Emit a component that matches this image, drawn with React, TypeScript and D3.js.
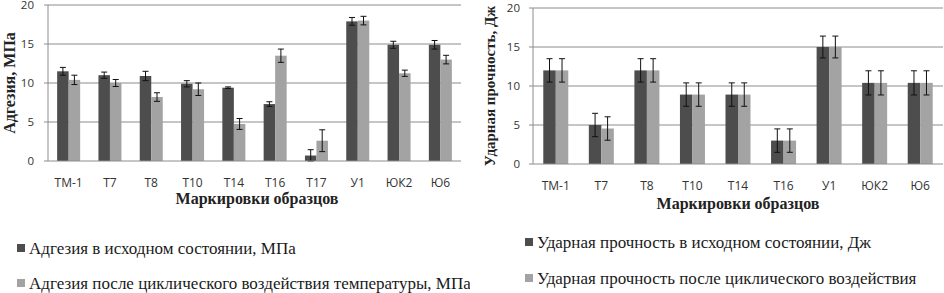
import React from "react";
import * as d3 from "d3";

const catsA = ["ТМ-1", "Т7", "Т8", "Т10", "Т14", "Т16", "Т17", "У1", "ЮК2", "Ю6"];
const adhBefore = [11.5, 11.0, 10.9, 9.9, 9.4, 7.3, 0.7, 17.9, 14.9, 14.9];
const adhBeforeErr = [0.5, 0.4, 0.6, 0.4, 0.1, 0.3, 0.75, 0.5, 0.45, 0.55];
const adhAfter = [10.4, 10.0, 8.2, 9.2, 4.75, 13.5, 2.6, 18.0, 11.25, 13.0];
const adhAfterErr = [0.6, 0.45, 0.55, 0.8, 0.7, 0.85, 1.4, 0.55, 0.4, 0.55];

const catsB = ["ТМ-1", "Т7", "Т8", "Т10", "Т14", "Т16", "У1", "ЮК2", "Ю6"];
const impBefore = [12.0, 5.0, 12.0, 8.9, 8.9, 3.0, 15.0, 10.4, 10.4];
const impBeforeErr = [1.5, 1.5, 1.5, 1.5, 1.5, 1.5, 1.4, 1.55, 1.55];
const impAfter = [12.0, 4.55, 12.0, 8.9, 8.9, 3.0, 15.0, 10.4, 10.4];
const impAfterErr = [1.5, 1.5, 1.5, 1.5, 1.5, 1.5, 1.4, 1.55, 1.55];

const yTicks = [0, 5, 10, 15, 20];

const DARK = "#4d4d4d";
const LIGHT = "#a3a3a3";
const GRID = "#8c8c8c";
const SANS = "'Open Sans', 'Liberation Sans', sans-serif";
const SERIF = "'Liberation Serif', 'Times New Roman', serif";

type PanelProps = {
  cats: string[];
  s1: number[];
  e1: number[];
  s2: number[];
  e2: number[];
  x0: number;
  x1: number;
  y0: number;
  y1: number;
  bw: number;
  yTitle: string;
  yTitleX: number;
  yTitleSize: number;
  tickLabelX: number;
  catLabelY: number;
  xTitleX: number;
  xTitleY: number;
};

function Panel(p: PanelProps) {
  const x = d3.scaleBand<string>().domain(p.cats).range([p.x0, p.x1]).padding(0);
  const y = d3.scaleLinear().domain([0, 20]).range([p.y0, p.y1]);
  const step = x.bandwidth();
  const inner = d3
    .scaleBand<string>()
    .domain(["a", "b"])
    .range([step / 2 - p.bw, step / 2 + p.bw])
    .padding(0);
  const series = [
    { key: "a", vals: p.s1, errs: p.e1, color: DARK },
    { key: "b", vals: p.s2, errs: p.e2, color: LIGHT },
  ];
  return (
    <g>
      {yTicks.map((t) => (
        <g key={"g" + t}>
          {t > 0 && (
            <line x1={p.x0} x2={p.x1} y1={y(t)} y2={y(t)} stroke={GRID} strokeWidth={1} />
          )}
          <line x1={p.x0 - 4} x2={p.x0} y1={y(t)} y2={y(t)} stroke={GRID} strokeWidth={1} />
          <text
            x={p.tickLabelX}
            y={y(t)}
            dy="0.35em"
            textAnchor="end"
            fontFamily={SANS}
            fontSize={11.5}
            fill="#333"
          >
            {t}
          </text>
        </g>
      ))}
      <line x1={p.x0} x2={p.x0} y1={p.y0} y2={p.y1} stroke={GRID} strokeWidth={1} />
      {series.map((s) =>
        p.cats.map((c, i) => {
          const bx = (x(c) as number) + (inner(s.key) as number);
          const w = inner.bandwidth();
          const cx = bx + w / 2;
          const v = s.vals[i];
          const e = s.errs[i];
          return (
            <g key={s.key + c}>
              <rect x={bx} y={y(v)} width={w} height={y(0) - y(v)} fill={s.color} />
              <line x1={cx} x2={cx} y1={y(v + e)} y2={y(Math.max(0, v - e))} stroke="#111" strokeWidth={1} />
              <line x1={cx - 3} x2={cx + 3} y1={y(v + e)} y2={y(v + e)} stroke="#111" strokeWidth={1} />
              <line
                x1={cx - 3}
                x2={cx + 3}
                y1={y(Math.max(0, v - e))}
                y2={y(Math.max(0, v - e))}
                stroke="#111"
                strokeWidth={1}
              />
            </g>
          );
        })
      )}
      <line x1={p.x0} x2={p.x1} y1={p.y0} y2={p.y0} stroke={GRID} strokeWidth={1} />
      {p.cats.map((c) => (
        <text
          key={"l" + c}
          x={(x(c) as number) + step / 2}
          y={p.catLabelY}
          dy="0.35em"
          textAnchor="middle"
          fontFamily={SANS}
          fontSize={12}
          fill="#333"
        >
          {c}
        </text>
      ))}
      <text
        x={p.xTitleX}
        y={p.xTitleY}
        dy="0.35em"
        textAnchor="middle"
        fontFamily={SERIF}
        fontWeight="bold"
        fontSize={16}
        fill="#222"
      >
        Маркировки образцов
      </text>
      <text
        transform={`translate(${p.yTitleX},${(p.y0 + p.y1) / 2}) rotate(-90)`}
        dy="0.35em"
        textAnchor="middle"
        fontFamily={SERIF}
        fontWeight="bold"
        fontSize={p.yTitleSize}
        fill="#222"
      >
        {p.yTitle}
      </text>
    </g>
  );
}

function Legend({ x, ys, labels, size }: { x: number; ys: number[]; labels: string[]; size: number }) {
  const colors = [DARK, LIGHT];
  return (
    <g>
      {labels.map((l, i) => (
        <g key={l}>
          <rect x={x} y={ys[i] - 4} width={8} height={8} fill={colors[i]} />
          <text x={x + 12} y={ys[i]} dy="0.33em" fontFamily={SERIF} fontSize={size} fill="#1a1a1a">
            {l}
          </text>
        </g>
      ))}
    </g>
  );
}

export default function App() {
  return (
    <svg
      width={944}
      height={293}
      style={{ position: "absolute", left: 0, top: 0, background: "#fff" }}
    >
      <defs>
        <clipPath id="leftClip">
          <rect x={0} y={0} width={470} height={293} />
        </clipPath>
      </defs>
      <g clipPath="url(#leftClip)">
        <Panel
          cats={catsA}
          s1={adhBefore}
          e1={adhBeforeErr}
          s2={adhAfter}
          e2={adhAfterErr}
          x0={48}
          x1={461}
          y0={161}
          y1={5}
          bw={11.5}
          yTitle="Адгезия, МПа"
          yTitleX={9}
          yTitleSize={16}
          tickLabelX={34}
          catLabelY={183}
          xTitleX={257}
          xTitleY={198}
        />
        <Legend
          x={17}
          ys={[248, 283]}
          size={17}
          labels={[
            "Адгезия в исходном состоянии, МПа",
            "Адгезия после циклического воздействия температуры, МПа",
          ]}
        />
      </g>
      <Panel
        cats={catsB}
        s1={impBefore}
        e1={impBeforeErr}
        s2={impAfter}
        e2={impAfterErr}
        x0={533}
        x1={943}
        y0={164}
        y1={8}
        bw={12.5}
        yTitle="Ударная прочность, Дж"
        yTitleX={490}
        yTitleSize={15}
        tickLabelX={520}
        catLabelY={186}
        xTitleX={738}
        xTitleY={203}
      />
      <Legend
        x={525}
        ys={[242, 278]}
        size={17}
        labels={[
          "Ударная прочность в исходном состоянии, Дж",
          "Ударная прочность после циклического воздействия",
        ]}
      />
    </svg>
  );
}
